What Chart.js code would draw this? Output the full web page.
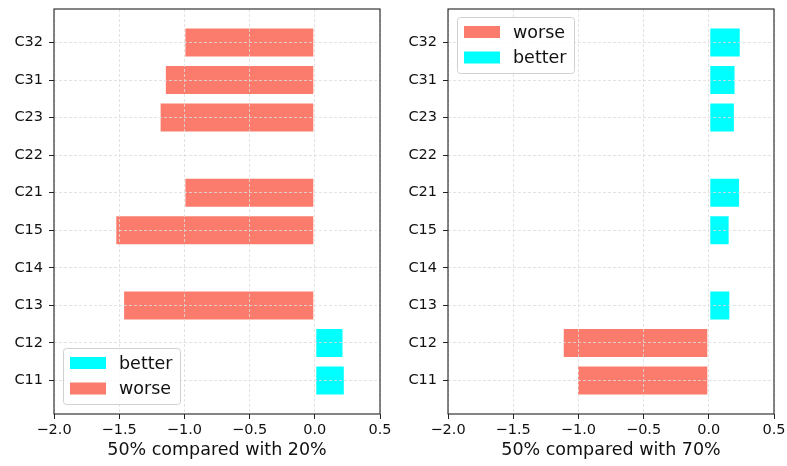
<!DOCTYPE html>
<html><head><meta charset="utf-8">
<script src="https://cdn.jsdelivr.net/npm/chart.js@4/dist/chart.umd.min.js"></script>
<style>
html,body{margin:0;padding:0;background:#fff;}
#wrap{position:relative;width:787px;height:466px;overflow:hidden;}
#wrap canvas{position:absolute;top:0;}
</style></head><body>
<div id="wrap">
<canvas id="c1" width="393" height="466" style="left:0px"></canvas>
<canvas id="c2" width="393" height="466" style="left:394px"></canvas>
</div>
<script>
// ---- data ----
const categories = ['C11','C12','C13','C14','C15','C21','C22','C23','C31','C32'];
const xTicks = [-2.0, -1.5, -1.0, -0.5, 0.0, 0.5];
// panel 1: 50% compared with 20%
const better20 = [0.23, 0.22, null, null, null, null, null, null, null, null];
const worse20  = [null, null, -1.47, null, -1.53, -1.00, null, -1.19, -1.15, -1.00];
// panel 2: 50% compared with 70%
const worse70  = [-1.01, -1.12, null, null, null, null, null, null, null, null];
const better70 = [null, null, 0.165, null, 0.16, 0.24, null, 0.20, 0.205, 0.245];
const title20 = '50% compared with 20%';
const title70 = '50% compared with 70%';

// ---- styles ----
const BETTER = '#00FFFF', WORSE = '#FB7C6C';
const FONT = 'DejaVu Sans';

function fmt(v){ return v < 0 ? '\u2212' + Math.abs(v).toFixed(1) : Math.abs(v).toFixed(1); }

const framePlugin = {
  id: 'frame',
  afterDraw(chart){
    const {ctx, chartArea:a} = chart;
    ctx.save();
    ctx.strokeStyle = '#222'; ctx.lineWidth = 1.1;
    ctx.strokeRect(a.left, a.top, a.right - a.left, a.bottom - a.top);
    ctx.restore();
  }
};
const boxLegend = {
  id: 'boxLegend',
  afterDraw(chart, args, opts){
    const {ctx, chartArea:a} = chart;
    const w = 117, h = 56;
    const x = a.left + 9;
    const y = opts.corner === 'bottom' ? a.bottom - 10 - h : a.top + 8;
    ctx.save();
    ctx.beginPath();
    ctx.roundRect(x + 0.5, y + 0.5, w, h, 3);
    ctx.fillStyle = 'rgba(255,255,255,0.85)'; ctx.fill();
    ctx.strokeStyle = '#d0d0d0'; ctx.lineWidth = 1; ctx.stroke();
    ctx.font = '17.5px "' + FONT + '"'; ctx.textBaseline = 'middle';
    chart.data.datasets.forEach((ds, i) => {
      const cy = y + 15 + i * 25.5;
      ctx.fillStyle = ds.backgroundColor; ctx.fillRect(x + 7, cy - 6, 36, 12);
      ctx.fillStyle = '#111'; ctx.fillText(ds.label, x + 56, cy + 1);
    });
    ctx.restore();
  }
};

function makeChart(id, specs, title, corner){
  const gridOpts = { color:'rgba(220,220,220,0.8)', lineWidth:1, z:1, offset:false,
                     tickLength:5, tickColor:'#222', tickWidth:1, tickBorderDash:[] };
  const borderOpts = { display:false, dash:[3,2] };
  return new Chart(document.getElementById(id), {
    type: 'bar',
    data: {
      datasets: specs.map(s => ({
        label: s.label,
        data: s.values.map((v, i) => ({x: v, y: i})).filter(p => p.x !== null),
        backgroundColor: s.color,
        borderColor: 'rgba(255,255,255,0.3)',
        borderWidth: 1, borderSkipped: false,
        grouped: false, categoryPercentage: 0.8, barPercentage: 1.0
      }))
    },
    options: {
      indexAxis: 'y', responsive: false, animation: false,
      layout: { padding: { top: 9, right: 13, left: 0, bottom: 0 } },
      plugins: { legend: { display: false }, tooltip: { enabled: false }, boxLegend: { corner } },
      scales: {
        x: {
          type: 'linear', min: -2, max: 0.5, offset: false,
          afterBuildTicks: s => { s.ticks = xTicks.map(v => ({value: v})); },
          afterFit: s => { s.height = 52; s.paddingLeft = 0; s.paddingRight = 0; },
          ticks: { callback: v => fmt(v), font: {family: FONT, size: 14.5}, color: '#111',
                   padding: 3, maxRotation: 0, autoSkip: false },
          grid: gridOpts, border: borderOpts,
          title: { display: true, text: title, font: {family: FONT, size: 17.5}, color: '#111',
                   padding: {top: 0, bottom: 5} }
        },
        y: {
          type: 'linear', min: -0.89, max: 9.89, offset: false,
          afterBuildTicks: s => { s.ticks = categories.map((c, i) => ({value: i})); },
          afterFit: s => { s.width = 54; s.paddingTop = 0; s.paddingBottom = 0; },
          ticks: { callback: v => categories[v], font: {family: FONT, size: 14.5}, color: '#111',
                   padding: 6, autoSkip: false },
          grid: gridOpts, border: borderOpts
        }
      }
    },
    plugins: [framePlugin, boxLegend]
  });
}

makeChart('c1', [
  {label: 'better', values: better20, color: BETTER},
  {label: 'worse',  values: worse20,  color: WORSE}
], title20, 'bottom');
makeChart('c2', [
  {label: 'worse',  values: worse70,  color: WORSE},
  {label: 'better', values: better70, color: BETTER}
], title70, 'top');
</script>
</body></html>
